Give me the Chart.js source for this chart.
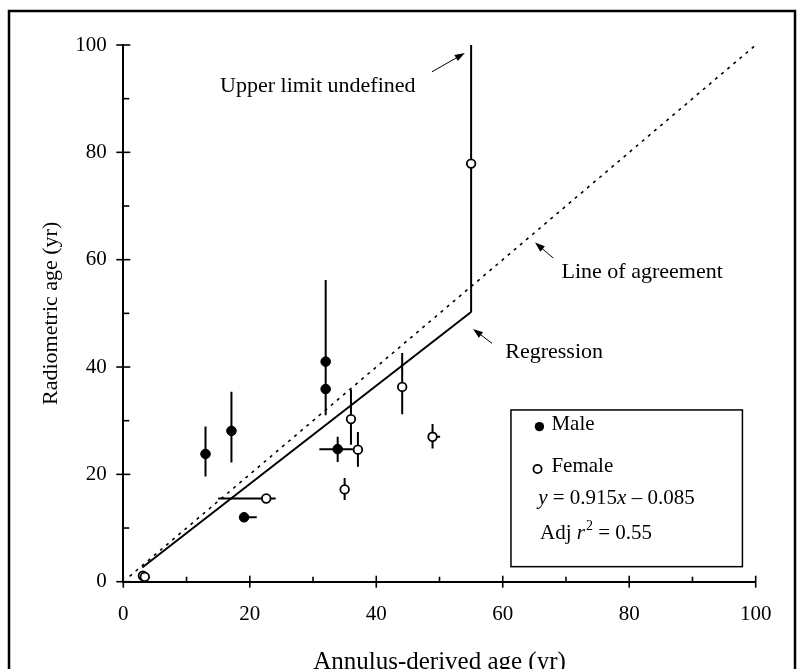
<!DOCTYPE html>
<html><head><meta charset="utf-8">
<script src="https://cdn.jsdelivr.net/npm/chart.js@4.4.0/dist/chart.umd.min.js"></script>
<style>
html,body{margin:0;padding:0;overflow:hidden;background:#fff;width:797px;height:669px}
#wrap{width:797px;height:700px;position:relative}
</style></head>
<body><div id="wrap"><canvas id="c"></canvas></div>
<script>
// ---- data ----
const maleX   = [13.0, 17.1, 19.1, 32.0, 32.0, 33.9];
const maleY   = [23.8, 28.1, 12.0, 41.0, 35.9, 24.7];
const maleYLo = [19.6, 22.2, null, 31.0, 31.0, 22.3];
const maleYHi = [28.9, 35.4, null, 56.2, 56.2, 27.0];
const maleXLo = [null, null, 19.1, null, null, 31.0];
const maleXHi = [null, null, 21.1, null, null, 36.3];

const femaleX   = [3.1, 3.4, 22.6, 35.0, 36.0, 37.1, 44.1, 48.9, 55.0];
const femaleY   = [1.1, 0.9, 15.5, 17.2, 30.3, 24.6, 36.3, 27.0, 77.9];
const femaleYLo = [null, null, null, 15.2, 25.5, 21.4, 31.2, 24.8, 50.2];
const femaleYHi = [null, null, null, 19.3, 35.8, 27.9, 42.6, 29.4, 100];
const femaleXLo = [null, null, 15.0, null, null, null, null, 48.2, null];
const femaleXHi = [null, null, 24.1, null, null, null, null, 50.1, null];

const regressionX = [3, 55];
const regressionY = [2.66, 50.24];
const agreementX = [1, 100];
const agreementY = [1, 100];

const majorTicks = [0, 20, 40, 60, 80, 100];
const minorTicks = [10, 30, 50, 70, 90];

const xTitle = 'Annulus-derived age (yr)';
const yTitle = 'Radiometric age (yr)';
const legendLabels = ['Male', 'Female'];

// ---- build datasets ----
const pts = (xs, ys) => xs.map((x, i) => ({x, y: ys[i]}));
function bars(xs, ys, xlo, xhi, ylo, yhi) {
  const out = [];
  xs.forEach((x, i) => {
    if (ylo[i] != null) out.push({x, y: ylo[i]}, {x, y: yhi[i]}, {x, y: null});
    if (xlo[i] != null) out.push({x: xlo[i], y: ys[i]}, {x: xhi[i], y: ys[i]}, {x: xhi[i], y: null});
  });
  return out;
}
const FONT = "'Liberation Serif', 'Times New Roman', serif";
Chart.defaults.font.family = FONT;
Chart.defaults.color = '#000';

const lineBase = {type: 'line', showLine: true, pointRadius: 0, pointHoverRadius: 0, fill: false, spanGaps: false, clip: false, tension: 0};

function arrow(ctx, x1, y1, x2, y2) {
  const a = Math.atan2(y2 - y1, x2 - x1), L = 10, W = 3.5;
  ctx.beginPath(); ctx.moveTo(x1, y1); ctx.lineTo(x2 - L * 0.6 * Math.cos(a), y2 - L * 0.6 * Math.sin(a)); ctx.stroke();
  ctx.beginPath();
  ctx.moveTo(x2, y2);
  ctx.lineTo(x2 - L * Math.cos(a) + W * Math.sin(a), y2 - L * Math.sin(a) - W * Math.cos(a));
  ctx.lineTo(x2 - L * Math.cos(a) - W * Math.sin(a), y2 - L * Math.sin(a) + W * Math.cos(a));
  ctx.closePath(); ctx.fill();
}
function runs(ctx, x, y, parts) {
  for (const p of parts) {
    ctx.font = p.font;
    ctx.fillText(p.t, x, y + (p.dy || 0));
    x += ctx.measureText(p.t).width + (p.kern || 0);
  }
}

const decor = {
  id: 'decor',
  afterDraw(chart) {
    const ctx = chart.ctx, sx = chart.scales.x, sy = chart.scales.y;
    const X = v => sx.getPixelForValue(v), Y = v => sy.getPixelForValue(v);
    ctx.save();
    ctx.strokeStyle = '#000'; ctx.fillStyle = '#000';
    // tick marks
    ctx.lineWidth = 1.6;
    const ax = X(0), ay = Y(0);
    majorTicks.forEach(v => {
      ctx.beginPath(); ctx.moveTo(X(v), ay - 6); ctx.lineTo(X(v), ay + 6); ctx.stroke();
      ctx.beginPath(); ctx.moveTo(ax - 7, Y(v)); ctx.lineTo(ax + 7, Y(v)); ctx.stroke();
    });
    minorTicks.forEach(v => {
      ctx.beginPath(); ctx.moveTo(X(v), ay); ctx.lineTo(X(v), ay - 5); ctx.stroke();
      ctx.beginPath(); ctx.moveTo(ax, Y(v)); ctx.lineTo(ax + 6, Y(v)); ctx.stroke();
    });
    // annotations
    ctx.lineWidth = 1;
    ctx.textBaseline = 'alphabetic'; ctx.textAlign = 'left';
    ctx.font = "22px " + FONT;
    ctx.fillText('Upper limit undefined', X(15.3), Y(91.3));
    arrow(ctx, X(48.8), Y(95.0), X(54.0), Y(98.5));
    ctx.fillText('Line of agreement', X(69.3), Y(56.5));
    arrow(ctx, X(68.0), Y(60.3), X(65.1), Y(63.2));
    ctx.fillText('Regression', X(60.4), Y(41.6));
    arrow(ctx, X(58.3), Y(44.4), X(55.3), Y(47.1));
    // legend box
    ctx.lineWidth = 1.5;
    ctx.strokeRect(X(61.3), Y(32.0), X(97.9) - X(61.3), Y(2.8) - Y(32.0));
    ctx.beginPath(); ctx.arc(X(65.8), Y(28.9), 4.7, 0, Math.PI * 2); ctx.fill();
    ctx.beginPath(); ctx.arc(X(65.5), Y(21.0), 4.1, 0, Math.PI * 2);
    ctx.fillStyle = '#fff'; ctx.fill(); ctx.lineWidth = 1.8; ctx.stroke(); ctx.fillStyle = '#000';
    ctx.textBaseline = 'middle';
    ctx.font = "21px " + FONT;
    ctx.fillText(legendLabels[0], X(67.7), Y(29.2));
    ctx.fillText(legendLabels[1], X(67.7), Y(21.5));
    const N = "21px " + FONT, I = "italic 21px " + FONT;
    runs(ctx, X(65.6), Y(15.5), [{t: 'y', font: I}, {t: ' = 0.915', font: N}, {t: 'x', font: I}, {t: ' \u2013 0.085', font: N}]);
    runs(ctx, X(65.9), Y(9.0), [{t: 'Adj ', font: N}, {t: 'r', font: I, kern: 1}, {t: '2', font: "14px " + FONT, dy: -7}, {t: ' = 0.55', font: N}]);
    // outer frame
    ctx.lineWidth = 2.5;
    ctx.strokeRect(9, 11, 786, 720);
    ctx.restore();
  }
};

new Chart(document.getElementById('c'), {
  type: 'scatter',
  data: {
    datasets: [
      {label: 'Male', data: pts(maleX, maleY), pointRadius: 4.8, pointHoverRadius: 4.8, pointBackgroundColor: '#000', pointBorderColor: '#000', pointBorderWidth: 1, order: 0, clip: false},
      {label: 'Female', data: pts(femaleX, femaleY), pointRadius: 4.3, pointHoverRadius: 4.3, pointBackgroundColor: '#fff', pointBorderColor: '#000', pointBorderWidth: 1.8, order: 0, clip: false},
      Object.assign({label: 'Male error', data: bars(maleX, maleY, maleXLo, maleXHi, maleYLo, maleYHi), borderColor: '#000', borderWidth: 2, order: 1}, lineBase),
      Object.assign({label: 'Female error', data: bars(femaleX, femaleY, femaleXLo, femaleXHi, femaleYLo, femaleYHi), borderColor: '#000', borderWidth: 2, order: 1}, lineBase),
      Object.assign({label: 'Regression', data: pts(regressionX, regressionY), borderColor: '#000', borderWidth: 2, order: 2}, lineBase),
      Object.assign({label: 'Line of agreement', data: pts(agreementX, agreementY), borderColor: '#000', borderWidth: 1.6, borderDash: [3, 5], order: 3}, lineBase)
    ]
  },
  options: {
    responsive: true, maintainAspectRatio: false, animation: false,
    events: [],
    layout: {padding: {left: 0, top: 45, right: 41.3, bottom: 0}},
    plugins: {legend: {display: false}, tooltip: {enabled: false}},
    scales: {
      x: {
        type: 'linear', min: 0, max: 100,
        afterBuildTicks: s => { s.ticks = majorTicks.map(v => ({value: v})); },
        afterFit: s => { s.height = 118.3; },
        grid: {display: false, drawTicks: false},
        border: {display: true, color: '#000', width: 2},
        ticks: {font: {size: 21}, color: '#000', padding: 20, maxRotation: 0},
        title: {display: true, text: xTitle, font: {size: 25}, color: '#000', padding: {top: 0, bottom: 23}}
      },
      y: {
        type: 'linear', min: 0, max: 100,
        afterBuildTicks: s => { s.ticks = majorTicks.map(v => ({value: v})); },
        afterFit: s => { s.width = 123.3; },
        grid: {display: false, drawTicks: false},
        border: {display: true, color: '#000', width: 2},
        ticks: {font: {size: 21}, color: '#000', padding: 16.5},
        title: {display: true, text: yTitle, font: {size: 22}, color: '#000', padding: {top: 37.8, bottom: 0}}
      }
    }
  },
  plugins: [decor]
});
</script>
</body></html>
